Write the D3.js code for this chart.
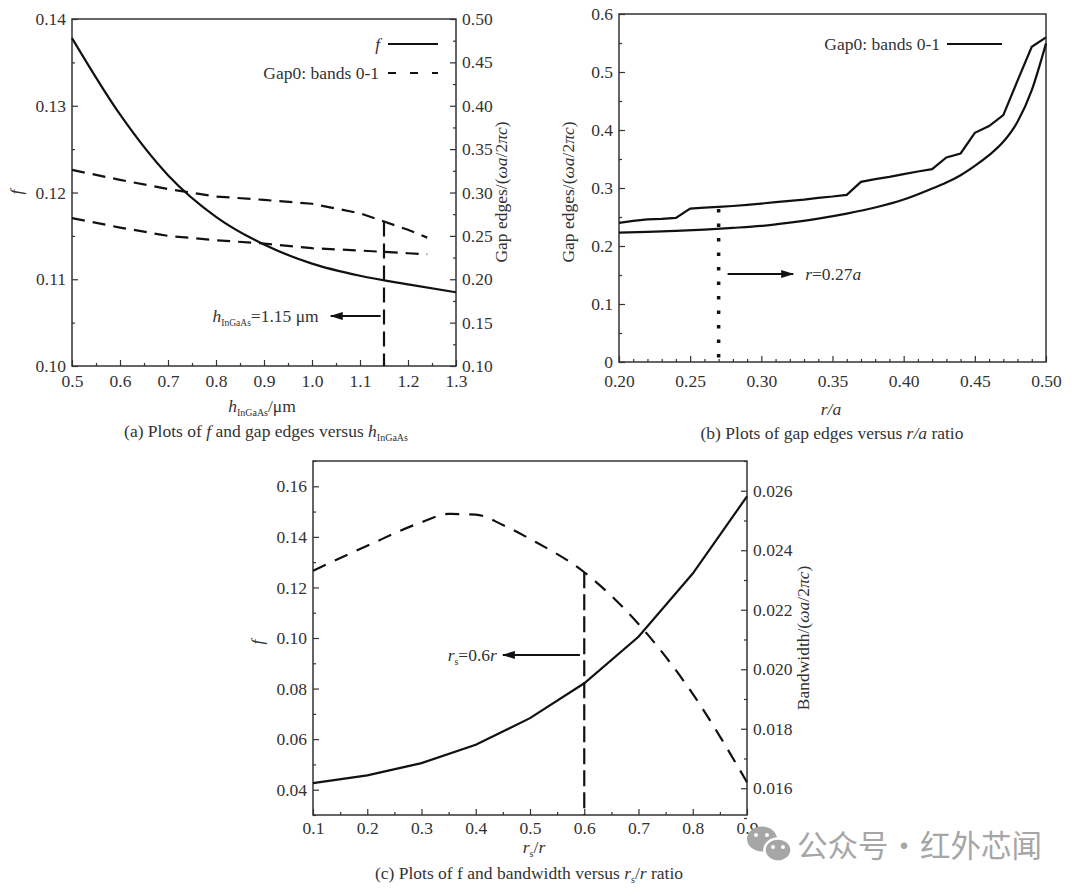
<!DOCTYPE html>
<html lang="en">
<head>
<meta charset="UTF-8"/>
<title>Gap edges plots</title>
<script src="https://d3js.org/d3.v7.min.js"></script>
<style>
  body { margin: 0; background: #fff; }
  svg, svg text { font-family: "Liberation Serif", "DejaVu Serif", serif; }
  svg text { fill: #333; }
</style>
</head>
<body>
<script>
// ---- (a) f and gap edges versus h_InGaAs
var hA = [0.5, 0.6, 0.7, 0.8, 0.9, 1.0, 1.1, 1.2, 1.3];
var fA = [0.1378, 0.1290, 0.1220, 0.1172, 0.1140, 0.1118, 0.1104, 0.1094, 0.1085];
var hEdgeA = [0.5, 0.6, 0.7, 0.8, 0.9, 1.0, 1.1, 1.15, 1.2, 1.24];
var upperA = [0.326, 0.3146, 0.304, 0.2954, 0.2915, 0.287, 0.276, 0.2665, 0.257, 0.248];
var lowerA = [0.2704, 0.2596, 0.2500, 0.2450, 0.2412, 0.2358, 0.2331, 0.2315, 0.2300, 0.2288];
var hMarkA = 1.15;
var xTicksA = [0.5, 0.6, 0.7, 0.8, 0.9, 1.0, 1.1, 1.2, 1.3];
var yTicksA = [0.10, 0.11, 0.12, 0.13, 0.14];
var y2TicksA = [0.10, 0.15, 0.20, 0.25, 0.30, 0.35, 0.40, 0.45, 0.50];

// ---- (b) gap edges versus r/a
var raUpper = [0.20, 0.21, 0.22, 0.23, 0.24, 0.25, 0.26, 0.27, 0.28, 0.29, 0.30,
               0.31, 0.32, 0.33, 0.34, 0.35, 0.36, 0.37, 0.38, 0.39, 0.40,
               0.41, 0.42, 0.43, 0.44, 0.45, 0.46, 0.47, 0.48, 0.49, 0.50];
var upperB = [0.240, 0.2433, 0.246, 0.2467, 0.2485, 0.2646, 0.2663, 0.2674, 0.269, 0.2709, 0.2732,
              0.2755, 0.2778, 0.280, 0.283, 0.2853, 0.2882, 0.3106, 0.3152, 0.3192, 0.3238,
              0.3284, 0.3324, 0.3526, 0.3595, 0.3952, 0.4067, 0.4257, 0.485, 0.5436, 0.5597];
var raLower = [0.20, 0.22, 0.24, 0.26, 0.28, 0.30, 0.32, 0.34, 0.36, 0.38, 0.40,
               0.42, 0.43, 0.44, 0.45, 0.46, 0.47, 0.48, 0.49, 0.50];
var lowerB = [0.2231, 0.2243, 0.226, 0.2283, 0.2312, 0.2347, 0.2404, 0.2473, 0.2559, 0.2663, 0.2801,
              0.2991, 0.3094, 0.3221, 0.3382, 0.3566, 0.3796, 0.4142, 0.4688, 0.5494];
var raMarkB = 0.27;
var xTicksB = [0.20, 0.25, 0.30, 0.35, 0.40, 0.45, 0.50];
var yTicksB = [0, 0.1, 0.2, 0.3, 0.4, 0.5, 0.6];

// ---- (c) f and bandwidth versus rs/r
var rsC = [0.1, 0.2, 0.3, 0.4, 0.5, 0.6, 0.7, 0.8, 0.9];
var fC = [0.0426, 0.0457, 0.0505, 0.0578, 0.0683, 0.0821, 0.1005, 0.1255, 0.156];
var rsBw = [0.1, 0.2, 0.3, 0.35, 0.4, 0.45, 0.5, 0.6, 0.7, 0.8, 0.9];
var bwC = [0.02331, 0.02415, 0.02494, 0.02522, 0.0252, 0.02485, 0.02438, 0.02326, 0.02152, 0.01917, 0.0162];
var rsMarkC = 0.6;
var xTicksC = [0.1, 0.2, 0.3, 0.4, 0.5, 0.6, 0.7, 0.8, 0.9];
var yTicksC = [0.04, 0.06, 0.08, 0.10, 0.12, 0.14, 0.16];
var y2TicksC = [0.016, 0.018, 0.020, 0.022, 0.024, 0.026];

var serif = '"Liberation Serif", "DejaVu Serif", serif';
var ink = "#111";

var svg = d3.select("body").append("svg")
	.attr("width", 1080)
	.attr("height", 888)
	.style("font-family", serif);
svg.append("rect").attr("width", 1080).attr("height", 888).attr("fill", "#fff");

svg.append("defs").append("marker")
	.attr("id", "arrow")
	.attr("viewBox", "0 0 13 8")
	.attr("refX", 12).attr("refY", 4)
	.attr("markerWidth", 13).attr("markerHeight", 8)
	.attr("markerUnits", "userSpaceOnUse")
	.attr("orient", "auto")
	.append("path").attr("d", "M0,0L13,4L0,8Z").attr("fill", ink);

// minor ticks between majors, kept inside the domain
function minors(lo, hi, step, majors) {
	var out = [];
	var n = Math.round((hi - lo) / step);
	for (var i = 0; i <= n; i++) {
		var v = +(lo + i * step).toFixed(5);
		var isMajor = majors.some(function(m){ return Math.abs(m - v) < step / 10; });
		if (!isMajor) out.push(v);
	}
	return out;
}

function styleAxis(sel) {
	sel.attr("font-family", null);
	sel.select(".domain").remove();
	sel.selectAll("line").attr("stroke", "#333").attr("stroke-width", 1.2);
	sel.selectAll("text")
		.style("font-family", serif)
		.attr("font-size", 17.5)
		.style("fill", "#333");
}

// writes rich text: parts = [[text, "i" | "sub" | ""], ...]
function rich(t, parts, subSize) {
	var shift = 0;
	t.style("font-family", serif);
	parts.forEach(function(p){
		var ts = t.append("tspan").text(p[0]);
		if (p[1].indexOf("i") >= 0) ts.attr("font-style", "italic");
		if (p[1].indexOf("sub") >= 0) {
			ts.attr("font-size", subSize || 10).attr("dy", 4);
			shift = 4;
		} else if (shift) {
			ts.attr("dy", -shift);
			shift = 0;
		}
	});
	return t;
}

function panel(o) {
	var g = svg.append("g").attr("transform", "translate(" + o.left + "," + o.top + ")");
	var w = o.right - o.left, h = o.bottom - o.top;
	var x = d3.scaleLinear().domain(o.xDom).range([0, w]);
	var y = d3.scaleLinear().domain(o.yDom).range([h, 0]);
	var y2 = o.y2Dom ? d3.scaleLinear().domain(o.y2Dom).range([h, 0]) : null;

	g.append("g").attr("transform", "translate(0," + h + ")")
		.call(d3.axisBottom(x).tickValues(o.xMinor).tickFormat("").tickSize(-3))
		.call(styleAxis);
	g.append("g").attr("transform", "translate(0," + h + ")")
		.call(d3.axisBottom(x).tickValues(o.xTicks).tickFormat(o.xFmt).tickSize(-6).tickPadding(o.xPad))
		.call(styleAxis);
	g.append("g")
		.call(d3.axisLeft(y).tickValues(o.yMinor).tickFormat("").tickSize(-3))
		.call(styleAxis);
	g.append("g")
		.call(d3.axisLeft(y).tickValues(o.yTicks).tickFormat(o.yFmt).tickSize(-6).tickPadding(6))
		.call(styleAxis);
	if (y2) {
		g.append("g").attr("transform", "translate(" + w + ",0)")
			.call(d3.axisRight(y2).tickValues(o.y2Minor).tickFormat("").tickSize(-3))
			.call(styleAxis);
		g.append("g").attr("transform", "translate(" + w + ",0)")
			.call(d3.axisRight(y2).tickValues(o.y2Ticks).tickFormat(o.y2Fmt).tickSize(-6).tickPadding(6))
			.call(styleAxis);
	}
	g.append("rect")
		.attr("width", w).attr("height", h)
		.attr("fill", "none").attr("stroke", "#333").attr("stroke-width", 1.5);
	return {g: g, x: x, y: y, y2: y2, w: w, h: h};
}

function curve(p, xs, ys, scaleY, dash, c) {
	var line = d3.line()
		.x(function(d){ return p.x(d[0]); })
		.y(function(d){ return scaleY(d[1]); })
		.curve(c || d3.curveLinear);
	p.g.append("path")
		.datum(xs.map(function(v, i){ return [v, ys[i]]; }))
		.attr("d", line)
		.attr("fill", "none")
		.attr("stroke", ink)
		.attr("stroke-width", 2.2)
		.attr("stroke-dasharray", dash || null);
}

function vtitle(g, cx, cy, parts) {
	var t = g.append("text")
		.attr("transform", "translate(" + cx + "," + cy + ") rotate(-90)")
		.attr("text-anchor", "middle")
		.attr("font-size", 17.5);
	return rich(t, parts);
}

function htext(g, x, y, anchor, parts, size, subSize) {
	var t = g.append("text")
		.attr("x", x).attr("y", y)
		.attr("text-anchor", anchor)
		.attr("font-size", size || 17.5);
	return rich(t, parts, subSize);
}

var omegaParts = [["Gap edges/(", ""], ["ωa", "i"], ["/2", ""], ["πc", "i"], [")", ""]];

// ================= (a)
var pA = panel({
	left: 72, right: 456, top: 19, bottom: 366,
	xDom: [0.5, 1.3], yDom: [0.10, 0.14], y2Dom: [0.10, 0.50],
	xTicks: xTicksA, xMinor: minors(0.5, 1.3, 0.05, xTicksA), xFmt: d3.format(".1f"), xPad: 9,
	yTicks: yTicksA, yMinor: minors(0.10, 0.14, 0.005, yTicksA), yFmt: d3.format(".2f"),
	y2Ticks: y2TicksA, y2Minor: minors(0.10, 0.50, 0.025, y2TicksA), y2Fmt: d3.format(".2f")
});
curve(pA, hA, fA, pA.y, null, d3.curveMonotoneX);
curve(pA, hEdgeA, upperA, pA.y2, "13,8");
curve(pA, hEdgeA, lowerA, pA.y2, "13,8");

var markTopA = pA.y2(upperA[hEdgeA.indexOf(hMarkA)]);
pA.g.append("line")
	.attr("x1", pA.x(hMarkA)).attr("x2", pA.x(hMarkA))
	.attr("y1", markTopA).attr("y2", pA.h)
	.attr("stroke", ink).attr("stroke-width", 2.2).attr("stroke-dasharray", "15,7");
pA.g.append("line")
	.attr("x1", pA.x(1.143)).attr("x2", pA.x(1.039))
	.attr("y1", pA.y(0.10576)).attr("y2", pA.y(0.10576))
	.attr("stroke", ink).attr("stroke-width", 2).attr("marker-end", "url(#arrow)");
htext(pA.g, pA.x(1.014), pA.y(0.10576) + 6, "end",
	[["h", "i"], ["InGaAs", "sub"], ["=1.15 μm", ""]], 17.5, 9.5);

// legend (a)
pA.g.append("line").attr("x1", 316).attr("x2", 366).attr("y1", 25).attr("y2", 25)
	.attr("stroke", ink).attr("stroke-width", 2.2);
htext(pA.g, 308, 31, "end", [["f", "i"]]);
pA.g.append("line").attr("x1", 316).attr("x2", 366).attr("y1", 54).attr("y2", 54)
	.attr("stroke", ink).attr("stroke-width", 2.2).attr("stroke-dasharray", "8,14");
htext(pA.g, 307, 60, "end", [["Gap0: bands 0-1", ""]]);

vtitle(pA.g, -50, 173, [["f", "i"]]);
vtitle(pA.g, 435, 173, omegaParts);
htext(svg, 262, 412, "middle", [["h", "i"], ["InGaAs", "sub"], ["/μm", ""]], 17.5, 10);
htext(svg, 266, 437, "middle",
	[["(a) Plots of ", ""], ["f", "i"], [" and gap edges versus ", ""], ["h", "i"], ["InGaAs", "sub"]], 17.5, 10);

// ================= (b)
var pB = panel({
	left: 619, right: 1046, top: 14, bottom: 362,
	xDom: [0.20, 0.50], yDom: [0, 0.6],
	xTicks: xTicksB, xMinor: minors(0.20, 0.50, 0.01, xTicksB), xFmt: d3.format(".2f"), xPad: 13,
	yTicks: yTicksB, yMinor: minors(0, 0.6, 0.05, yTicksB),
	yFmt: function(d){ return d === 0 ? "0" : d3.format(".1f")(d); }
});
curve(pB, raUpper, upperB, pB.y);
curve(pB, raLower, lowerB, pB.y, null, d3.curveMonotoneX);

pB.g.append("line")
	.attr("x1", pB.x(raMarkB)).attr("x2", pB.x(raMarkB))
	.attr("y1", pB.y(upperB[raUpper.indexOf(raMarkB)]) + 2).attr("y2", pB.h)
	.attr("stroke", ink).attr("stroke-width", 3.5).attr("stroke-dasharray", "3.5,11");
pB.g.append("line")
	.attr("x1", pB.x(0.2763)).attr("x2", pB.x(0.3224))
	.attr("y1", pB.y(0.1517)).attr("y2", pB.y(0.1517))
	.attr("stroke", ink).attr("stroke-width", 2).attr("marker-end", "url(#arrow)");
htext(pB.g, pB.x(0.3308), pB.y(0.1517) + 6, "start",
	[["r", "i"], ["=0.27", ""], ["a", "i"]]);

// legend (b)
pB.g.append("line").attr("x1", 328).attr("x2", 383).attr("y1", 30).attr("y2", 30)
	.attr("stroke", ink).attr("stroke-width", 2.2);
htext(pB.g, 321, 36, "end", [["Gap0: bands 0-1", ""]]);

vtitle(pB.g, -45, 178, omegaParts);
htext(svg, 831, 415, "middle", [["r/a", "i"]]);
htext(svg, 832, 439, "middle", [["(b) Plots of gap edges versus ", ""], ["r/a", "i"], [" ratio", ""]]);

// ================= (c)
var pC = panel({
	left: 313, right: 747, top: 461, bottom: 815,
	xDom: [0.1, 0.9], yDom: [0.03, 0.17], y2Dom: [0.0151, 0.0270],
	xTicks: xTicksC, xMinor: minors(0.1, 0.9, 0.05, xTicksC), xFmt: d3.format(".1f"), xPad: 7,
	yTicks: yTicksC, yMinor: minors(0.03, 0.17, 0.01, yTicksC), yFmt: d3.format(".2f"),
	y2Ticks: y2TicksC, y2Minor: minors(0.015, 0.027, 0.001, y2TicksC), y2Fmt: d3.format(".3f")
});
curve(pC, rsC, fC, pC.y);
curve(pC, rsBw, bwC, pC.y2, "14,10", d3.curveMonotoneX);

pC.g.append("line")
	.attr("x1", pC.x(rsMarkC)).attr("x2", pC.x(rsMarkC))
	.attr("y1", pC.y2(bwC[rsBw.indexOf(rsMarkC)])).attr("y2", pC.h)
	.attr("stroke", ink).attr("stroke-width", 2.2).attr("stroke-dasharray", "16,6");
pC.g.append("line")
	.attr("x1", pC.x(0.592)).attr("x2", pC.x(0.450))
	.attr("y1", pC.y(0.0933)).attr("y2", pC.y(0.0933))
	.attr("stroke", ink).attr("stroke-width", 2).attr("marker-end", "url(#arrow)");
htext(pC.g, pC.x(0.439), pC.y(0.0933) + 6, "end",
	[["r", "i"], ["s", "sub"], ["=0.6", ""], ["r", "i"]], 17.5, 10);

vtitle(pC.g, -50, 181, [["f", "i"]]);
vtitle(pC.g, 496, 177, [["Bandwidth/(", ""], ["ωa", "i"], ["/2", ""], ["πc", "i"], [")", ""]]);
htext(svg, 534, 853, "middle", [["r", "i"], ["s", "sub"], ["/", ""], ["r", "i"]], 17.5, 10);
htext(svg, 529, 879, "middle",
	[["(c) Plots of f and bandwidth versus ", ""], ["r", "i"], ["s", "sub"], ["/", ""], ["r", "i"], [" ratio", ""]], 17.5, 10);

// ================= watermark
var wm = svg.append("g");
var gray = "#a6a6a6";
wm.append("ellipse").attr("cx", 762).attr("cy", 839).attr("rx", 15).attr("ry", 12.5).attr("fill", gray);
wm.append("ellipse").attr("cx", 778).attr("cy", 850).attr("rx", 13.5).attr("ry", 11.5)
	.attr("fill", gray).attr("stroke", "#fff").attr("stroke-width", 2.5);
[[756, 835], [767, 835], [773, 847], [783, 847]].forEach(function(p){
	wm.append("circle").attr("cx", p[0]).attr("cy", p[1]).attr("r", 2).attr("fill", "#fff");
});
var cjk = '"Noto Sans CJK SC", "Noto Sans", sans-serif';
wm.append("text").attr("x", 797).attr("y", 857).attr("font-size", 30.5)
	.style("font-family", cjk).style("fill", gray).text("公众号");
wm.append("text").attr("x", 904).attr("y", 857).attr("font-size", 30.5).attr("text-anchor", "middle")
	.style("font-family", cjk).style("fill", gray).text("·");
wm.append("text").attr("x", 920).attr("y", 857).attr("font-size", 30.5)
	.style("font-family", cjk).style("fill", gray).text("红外芯闻");
</script>
</body>
</html>
